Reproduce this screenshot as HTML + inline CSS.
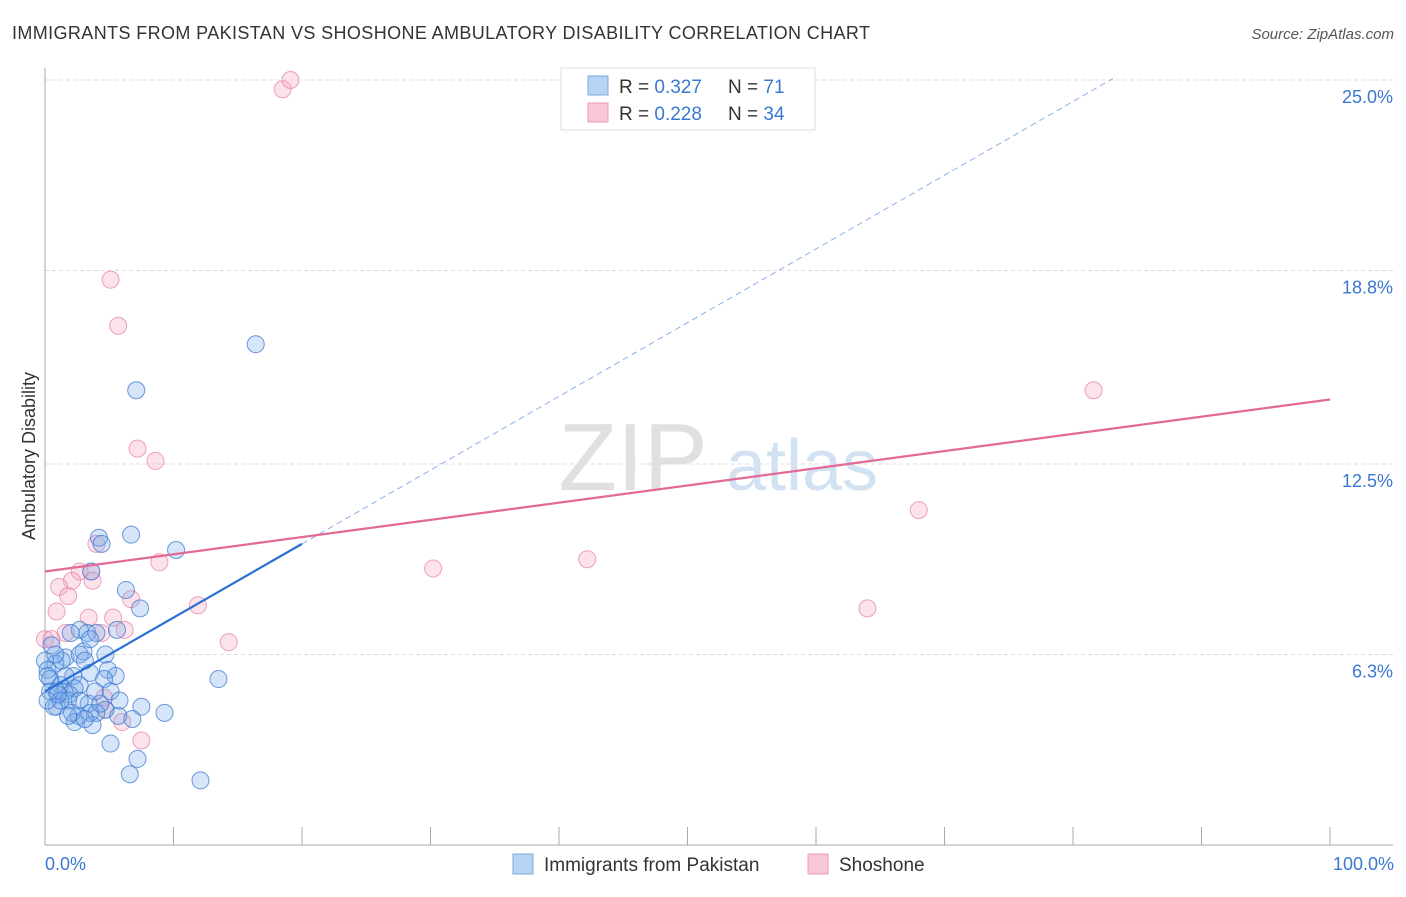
<!DOCTYPE html>
<html><head><meta charset="utf-8"><style>
body{margin:0;background:#fff;font-family:"Liberation Sans",sans-serif}
svg text{font-family:"Liberation Sans",sans-serif}
</style></head><body>
<svg id="chart" width="1406" height="892">
<text x="12" y="39" font-size="18" fill="#333" textLength="858">IMMIGRANTS FROM PAKISTAN VS SHOSHONE AMBULATORY DISABILITY CORRELATION CHART</text>
<text x="1394" y="39" font-size="15" fill="#555" text-anchor="end" font-style="italic">Source: ZipAtlas.com</text>
<g><text x="633" y="490" font-size="96" fill="#e0e0e0" text-anchor="middle" font-family="Liberation Serif,serif">ZIP</text><text x="802" y="490" font-size="72" fill="#d2e2f3" text-anchor="middle">atlas</text></g>
<g id="grid"></g>
<g id="axes"></g>
<g id="pts"></g>
<g id="lines"></g>
<text transform="translate(35,456) rotate(-90)" font-size="18" fill="#333" text-anchor="middle">Ambulatory Disability</text>
<text x="45" y="870" font-size="18" fill="#3a78d4">0.0%</text>
<text x="1394" y="870" font-size="18" fill="#3a78d4" text-anchor="end">100.0%</text>
<g>
<rect x="561" y="68" width="254" height="62" fill="#fff" stroke="#ddd"/>
<rect x="588" y="76" width="20" height="19" fill="#b8d4f5" stroke="#7aa8e0"/>
<rect x="588" y="103" width="20" height="19" fill="#f9c8d6" stroke="#ec9ab4"/>
<text x="619" y="93" font-size="19" fill="#333">R = <tspan fill="#3a78d4">0.327</tspan></text>
<text x="728" y="93" font-size="19" fill="#333">N = <tspan fill="#3a78d4"> 71</tspan></text>
<text x="619" y="120" font-size="19" fill="#333">R = <tspan fill="#3a78d4">0.228</tspan></text>
<text x="728" y="120" font-size="19" fill="#333">N = <tspan fill="#3a78d4">34</tspan></text>
</g>
<g>
<rect x="513" y="854" width="20" height="20" fill="#b8d4f5" stroke="#7aa8e0"/>
<text x="544" y="871" font-size="19" fill="#333">Immigrants from Pakistan</text>
<rect x="808" y="854" width="20" height="20" fill="#f9c8d6" stroke="#ec9ab4"/>
<text x="839" y="871" font-size="19" fill="#333">Shoshone</text>
</g>
</svg>
<script>
const yTicks=[6.3,12.5,18.8,25.0];
const yTickLabels=["6.3%","12.5%","18.8%","25.0%"];
const blueX=[16.4,7.1,6.7,4.2,4.4,10.2,3.6,6.3,7.4,5.6,2.7,3.3,2.0,4.0,3.0,1.6,2.7,0.8,0,0.2,4.9,3.5,2.2,5.5,4.6,13.5,0.4,1.2,2.7,1.5,2.3,0.4,0.9,1.9,1.8,3.4,0.9,7.5,4.7,0.7,3.5,4.0,2.6,9.3,5.7,6.8,2.3,3.7,5.1,7.2,6.6,12.1,1.2,1.6,3.1,4.3,0.2,0.5,1.3,3.9,2.1,5.1,5.8,0.8,2.7,1.8,3.5,4.7,1.0,0.2,3.1];
const blueY=[16.4,14.9,10.2,10.1,9.9,9.7,9.0,8.4,7.8,7.1,7.1,7.0,7.0,7.0,6.4,6.2,6.3,6.0,6.1,5.8,5.8,5.7,5.6,5.6,5.5,5.5,5.5,5.3,5.3,5.1,5.2,5.1,5.1,5.0,4.8,4.7,4.6,4.6,4.5,4.6,4.4,4.4,4.3,4.4,4.3,4.2,4.1,4.0,3.4,2.9,2.4,2.2,4.8,5.6,6.1,4.7,5.6,6.6,6.1,5.1,4.4,5.1,4.8,6.3,4.8,4.3,6.8,6.3,5.0,4.8,4.2];
const pinkX=[18.5,19.1,5.1,5.7,7.2,8.6,4.0,8.9,3.6,2.7,2.1,1.1,3.7,1.8,6.7,11.9,0.9,3.4,5.3,6.2,1.6,4.4,0,0.5,14.3,30.2,42.2,68.0,64.0,81.6,4.6,4.7,6.0,7.5];
const pinkY=[24.7,25.0,18.5,17.0,13.0,12.6,9.9,9.3,9.0,9.0,8.7,8.5,8.7,8.2,8.1,7.9,7.7,7.5,7.5,7.1,7.0,7.0,6.8,6.8,6.7,9.1,9.4,11.0,7.8,14.9,4.9,4.5,4.1,3.5];
const blueFit=[5.1,0.24];
const pinkFit=[9.0,0.056];
const NS="http://www.w3.org/2000/svg";
const X=v=>45+v*12.85, Y=v=>848-v*30.72;
function mk(t,a,p){const e=document.createElementNS(NS,t);for(const k in a)e.setAttribute(k,a[k]);document.getElementById(p).appendChild(e);return e;}
yTicks.forEach((t,i)=>{
 const g=mk('line',{x1:45,x2:1393,y1:Y(t),y2:Y(t),stroke:'#ddd','stroke-dasharray':'4,3'},'grid');
 
 
 const tx=mk('text',{x:1393,y:Y(t)+23,'font-size':18,fill:'#3a78d4','text-anchor':'end'},'grid');
 tx.textContent=yTickLabels[i];
 
 
});
const ax=mk('line',{x1:45,x2:45,y1:68,y2:845,stroke:'#aaa'},'axes');


const bx=mk('line',{x1:45,x2:1393,y1:845,y2:845,stroke:'#aaa'},'axes');


for(let i=0;i<=10;i++){const t=mk('line',{x1:X(i*10),x2:X(i*10),y1:827,y2:845,stroke:'#aaa'},'axes');
 
 }
pinkX.forEach((x,i)=>{const c=mk('circle',{cx:X(x),cy:Y(pinkY[i]),r:8.5,fill:'rgba(244,160,188,0.3)',stroke:'rgba(230,140,170,0.8)','stroke-width':1},'pts');
 
 });
blueX.forEach((x,i)=>{const c=mk('circle',{cx:X(x),cy:Y(blueY[i]),r:8.5,fill:'rgba(120,170,232,0.3)',stroke:'rgba(60,120,210,0.75)','stroke-width':1},'pts');
 
 });
const bl=mk('line',{x1:X(0),y1:Y(blueFit[0]),x2:X(20),y2:Y(blueFit[0]+20*blueFit[1]),stroke:'#2a6fd6','stroke-width':2.2},'lines');


const bd=mk('line',{x1:X(20),y1:Y(blueFit[0]+20*blueFit[1]),x2:X(83.1),y2:Y(blueFit[0]+83.1*blueFit[1]),stroke:'#8ab0e6','stroke-width':1,'stroke-dasharray':'6,4'},'lines');


const pl=mk('line',{x1:X(0),y1:Y(pinkFit[0]),x2:X(100),y2:Y(pinkFit[0]+100*pinkFit[1]),stroke:'#e26a94','stroke-width':2.2},'lines');


</script>
</body></html>
